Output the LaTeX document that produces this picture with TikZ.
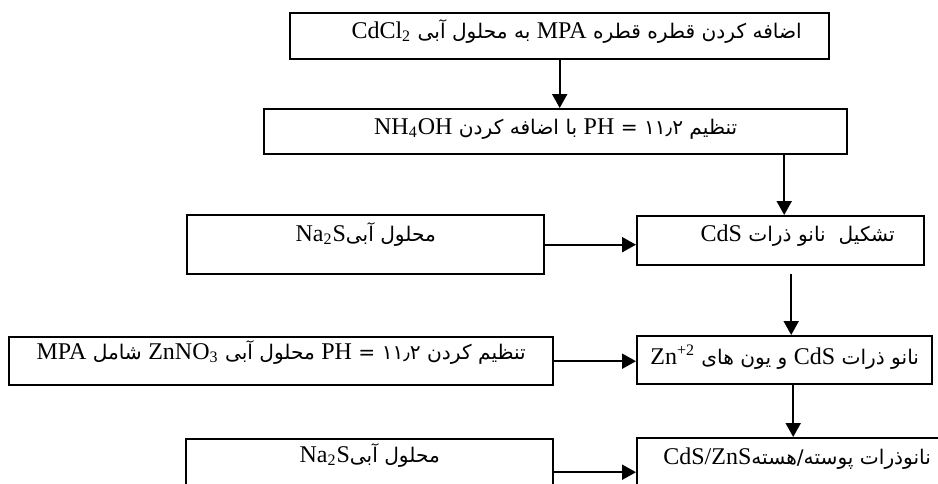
\documentclass[tikz,border=0pt]{standalone}
\usepackage{fontspec}
\setmainfont{Liberation Serif}
\newfontfamily\fafont[Script=Arabic,Scale=0.84]{DejaVu Sans}
\TeXXeTstate=1
\usetikzlibrary{arrows.meta,positioning}

\newcommand{\fa}[1]{{\fafont\beginR #1\endR}}
\newcommand{\enw}[1]{\beginL{\rmfamily #1}\endL}

\tikzset{
  box/.style={draw, line width=1.2pt, anchor=north west, inner xsep=0pt, inner ysep=0pt,
    font=\fontsize{12}{14}\selectfont},
  flow/.style={-{Triangle[length=7pt,width=7.5pt]}, line width=1pt}
}

\begin{document}
\begin{tikzpicture}[x=0.5pt,y=-0.5pt]
\useasboundingbox (0,0) rectangle (938,483);
\clip (0,0) rectangle (938,483);

% main column
\node[box, minimum width=269.5pt, text height=12.5pt, text depth=10.5pt] (cdcl) at (289,12)
  {\hspace*{17pt}\fa{اضافه کردن قطره قطره \enw{MPA} به محلول آبی \enw{CdCl\textsubscript{2}}}};
\node[box, minimum width=291.5pt, text height=12.5pt, text depth=10pt] (ph) at (263,108)
  {\fa{تنظیم ۱۱٫۲ = \enw{PH} با اضافه کردن \enw{NH\textsubscript{4}OH}}};
\node[box, minimum width=143.5pt, text height=12.5pt, text depth=12pt] (cds) at (636,215)
  {\hspace*{17pt}\fa{تشکیل~ نانو ذرات \enw{CdS}}};
\node[box, minimum width=147.5pt, text height=14pt, text depth=10pt] (zn) at (636,335)
  {\fa{نانو ذرات \enw{CdS} و یون های \enw{Zn\textsuperscript{+2}}}};
\node[box, minimum width=160pt, text height=13pt, text depth=21pt] (core) at (636,437)
  {\fa{نانوذرات پوسته/هسته\enw{CdS/ZnS}}};

% side inputs
\node[box, minimum width=178.5pt, text height=13pt, text depth=16.5pt] (nas1) at (186,214)
  {\fa{محلول آبی\enw{Na\textsubscript{2}S}}};
\node[box, minimum width=272pt, text height=11pt, text depth=13pt] (znno) at (8,336)
  {\fa{تنظیم کردن ۱۱٫۲ = \enw{PH} محلول آبی \enw{ZnNO\textsubscript{3}} شامل \enw{MPA}}};
\node[box, minimum width=183.5pt, text height=11.5pt, text depth=21.5pt] (nas2) at (185,438)
  {\fa{محلول آبی\enw{Na\textsubscript{2}S}}};

% arrows
\draw[flow] (cdcl.south) -- (cdcl.south |- ph.north);
\draw[flow] ([xshift=1.75pt]cds.north |- ph.south) -- ([xshift=1.75pt]cds.north);
\draw[flow] (nas1.east) -- (nas1.east -| cds.west);
\draw[flow, shorten <=4pt] ([xshift=5.25pt]cds.south) -- ([xshift=5.25pt]cds.south |- zn.north);
\draw[flow] (znno.east) -- (znno.east -| zn.west);
\draw[flow] ([xshift=4.25pt]zn.south) -- ([xshift=4.25pt]zn.south |- core.north);
\draw[flow] (nas2.east) -- (nas2.east -| core.west);

\end{tikzpicture}
\end{document}
